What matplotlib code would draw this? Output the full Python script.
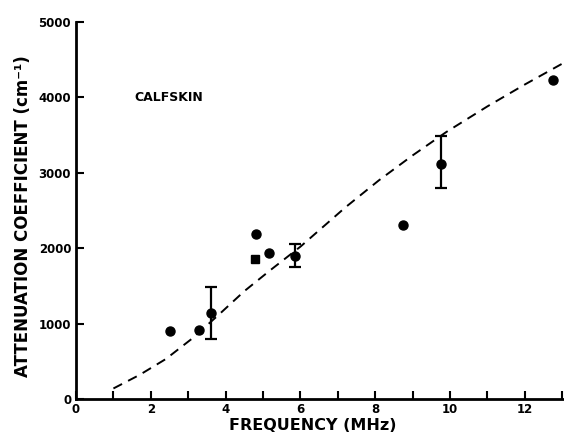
import matplotlib
matplotlib.use("Agg")
import matplotlib.pyplot as plt
from matplotlib.ticker import MultipleLocator

# measured points (frequency in MHz, attenuation in cm^-1)
freq_pts = [2.5, 3.3, 3.6, 4.8, 5.15, 5.85, 8.75, 9.75, 12.75]
atten_pts = [900, 920, 1140, 2190, 1930, 1900, 2310, 3120, 4230]

# points that carry error bars
err_freq = [3.6, 5.85, 9.75]
err_atten = [1140, 1900, 3120]
err_low = [800, 1750, 2800]
err_high = [1490, 2060, 3490]

# square marker
sq_freq = [4.78]
sq_atten = [1860]

# dashed theory curve
curve_freq = [1.0, 1.7, 2.4, 3.1, 3.8, 4.5, 5.2, 6.0, 7.2, 8.1, 9.0, 9.9, 11.0, 12.0, 13.05]
curve_atten = [140, 320, 530, 800, 1110, 1430, 1710, 2020, 2540, 2900, 3230, 3540, 3880, 4170, 4460]

plt.rcParams['font.family'] = ['DejaVu Sans']
plt.rcParams['font.weight'] = 'bold'

fig = plt.figure(figsize=(5.64, 4.41), dpi=100)
ax = fig.add_axes([0.1348, 0.0952, 0.8652, 0.855])

ax.plot(curve_freq, curve_atten, color='black', lw=1.4, dashes=(5, 3.5))

ax.plot(freq_pts, atten_pts, 'o', color='black', ms=6.5)
ax.plot(sq_freq, sq_atten, 's', color='black', ms=6.3)

yerr = [[a - l for a, l in zip(err_atten, err_low)],
        [h - a for a, h in zip(err_atten, err_high)]]
ax.errorbar(err_freq, err_atten, yerr=yerr, fmt='none', ecolor='black',
            elinewidth=1.6, capsize=4, capthick=1.6)

ax.set_xlim(0, 13.05)
ax.set_ylim(0, 5000)
ax.xaxis.set_major_locator(MultipleLocator(2))
ax.xaxis.set_minor_locator(MultipleLocator(1))
ax.yaxis.set_major_locator(MultipleLocator(1000))

for s in ['top', 'right']:
    ax.spines[s].set_visible(False)
for s in ['left', 'bottom']:
    ax.spines[s].set_linewidth(2)

ax.tick_params(which='both', direction='in', length=6, width=1.5, labelsize=8.5)
ax.tick_params(axis='x', pad=3)
for lbl in ax.get_xticklabels() + ax.get_yticklabels():
    lbl.set_fontweight('bold')

ax.text(1.55, 4000, "CALFSKIN", fontsize=9, fontweight='bold', va='center')

fig.text(0.555, 0.035, "FREQUENCY (MHz)", fontsize=11.5, fontweight='bold',
         ha='center', va='center')
fig.text(0.04, 0.51, "ATTENUATION COEFFICIENT (cm⁻¹)", fontsize=12,
         fontweight='bold', rotation=90, ha='center', va='center')

fig.savefig("out.png", dpi=100)
